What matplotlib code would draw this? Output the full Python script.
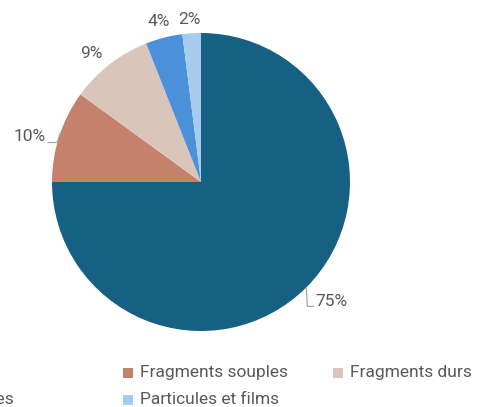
import numpy as np
import matplotlib.pyplot as plt
from matplotlib.patches import Rectangle

plt.rcParams['font.family'] = ['Roboto', 'DejaVu Sans']

# Share of each category
categories = ['Fibres', 'Fragments souples', 'Fragments durs', 'Microbilles', 'Particules et films']
values = [75, 10, 9, 4, 2]
colors = ['#166083', '#C4826C', '#D9C5BA', '#4A91DA', '#A7CBEE']
label_dist = [1.17, 1.17, 1.13, 1.12, 1.095]
# small nudges (pixels) for the percentage labels
label_dx = [7, -6, -6, -1, -1]
label_dy = [4, -8, -5, -1, 0]

W, H = 485, 407
fig = plt.figure(figsize=(W / 100, H / 100), dpi=100)
ax = fig.add_axes([0, 0, 1, 1])

cx, cy, r = 201, H - 182, 149
wedges, _ = ax.pie(values, colors=colors, startangle=90, counterclock=False,
                   center=(cx, cy), radius=r, frame=True,
                   wedgeprops=dict(linewidth=0))
ax.set_xlim(0, W)
ax.set_ylim(0, H)
ax.axis('off')

text_color = '#595959'
for w, v, k, dx, dy in zip(wedges, values, label_dist, label_dx, label_dy):
    mid = np.deg2rad((w.theta1 + w.theta2) / 2)
    tx = cx + r * k * np.cos(mid) + dx
    ty = cy + r * k * np.sin(mid) + dy
    ax.text(tx, ty, f'{v}%', ha='center', va='center', fontsize=12.5, color=text_color)

# leader lines for the two labels close to the pie edge
lc = '#A6A6A6'
a = np.deg2rad(-45)
ex, ey = cx + r * np.cos(a), cy + r * np.sin(a)
ax.plot([ex, ex + 1, ex + 7], [ey, ey - 19, ey - 19], color=lc, lw=0.9)
a = np.deg2rad(161)
ex, ey = cx + r * np.cos(a), cy + r * np.sin(a)
ax.plot([ex, ex - 3, ex - 12], [ey, ey - 9, ey - 9], color=lc, lw=0.9)

# legend laid out as a grid of equal cells, three per row
cell_w, row_h = 210, 27
x0, y0 = -87, H - 373
for i, (name, col) in enumerate(zip(categories, colors)):
    row, c = divmod(i, 3)
    x = x0 + c * cell_w
    y = y0 - row * row_h
    ax.add_patch(Rectangle((x, y - 5), 10, 10, color=col, lw=0, clip_on=False))
    ax.text(x + 17, y, name, ha='left', va='center', fontsize=12.5, color=text_color)

fig.savefig('out.png', dpi=100)
